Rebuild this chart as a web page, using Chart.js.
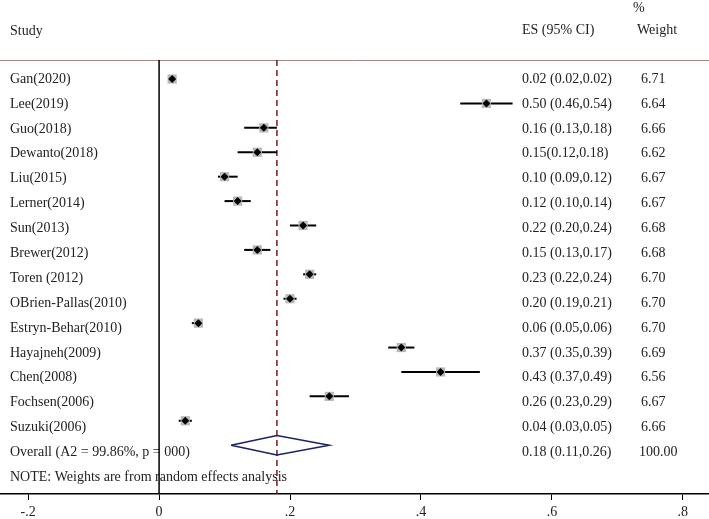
<!DOCTYPE html>
<html>
<head>
<meta charset="utf-8">
<script src="https://cdn.jsdelivr.net/npm/chart.js@4.4.0/dist/chart.umd.min.js"></script>
<style>
  body { margin: 0; background: #fff; }
  canvas { display: block; }
</style>
</head>
<body>
<canvas id="forest" width="709" height="519"></canvas>
<script>
// study rows, top to bottom
const studies = ["Gan(2020)", "Lee(2019)", "Guo(2018)", "Dewanto(2018)", "Liu(2015)", "Lerner(2014)",
  "Sun(2013)", "Brewer(2012)", "Toren (2012)", "OBrien-Pallas(2010)", "Estryn-Behar(2010)",
  "Hayajneh(2009)", "Chen(2008)", "Fochsen(2006)", "Suzuki(2006)"];
const es = [0.02, 0.50, 0.16, 0.15, 0.10, 0.12, 0.22, 0.15, 0.23, 0.20, 0.06, 0.37, 0.43, 0.26, 0.04];
const ciLow = [0.02, 0.46, 0.13, 0.12, 0.09, 0.10, 0.20, 0.13, 0.22, 0.19, 0.05, 0.35, 0.37, 0.23, 0.03];
const ciHigh = [0.02, 0.54, 0.18, 0.18, 0.12, 0.14, 0.24, 0.17, 0.24, 0.21, 0.06, 0.39, 0.49, 0.29, 0.05];
const esLabels = ["0.02 (0.02,0.02)", "0.50 (0.46,0.54)", "0.16 (0.13,0.18)", "0.15(0.12,0.18)",
  "0.10 (0.09,0.12)", "0.12 (0.10,0.14)", "0.22 (0.20,0.24)", "0.15 (0.13,0.17)", "0.23 (0.22,0.24)",
  "0.20 (0.19,0.21)", "0.06 (0.05,0.06)", "0.37 (0.35,0.39)", "0.43 (0.37,0.49)", "0.26 (0.23,0.29)",
  "0.04 (0.03,0.05)"];
const weights = ["6.71", "6.64", "6.66", "6.62", "6.67", "6.67", "6.68", "6.68", "6.70", "6.70", "6.70",
  "6.69", "6.56", "6.67", "6.66"];

const overallLabel = "Overall (A2 = 99.86%, p = 000)";
const overallEs = 0.18;
const overallLow = 0.11;
const overallHigh = 0.26;
const overallText = "0.18 (0.11,0.26)";
const overallWeight = "100.00";
const noteText = "NOTE: Weights are from random effects analysis";

const xTicks = [-0.2, 0, 0.2, 0.4, 0.6, 0.8];
const xTickLabels = ["-.2", "0", ".2", ".4", ".6", ".8"];

const FONT = "14px 'Liberation Serif', 'Times New Roman', serif";
const TEXT = "#222";
const yTop = -0.78, yBottom = 17.0;
const overallRow = studies.length;
const noteRow = studies.length + 1;

// confidence interval lines, one small dataset per study
const ciSets = studies.map((s, i) => ({
  data: [{ x: ciLow[i], y: i }, { x: ciHigh[i], y: i }],
  showLine: true,
  borderColor: "#000",
  borderWidth: 2,
  pointRadius: 0,
  order: 4
}));

const textPlugin = {
  id: "forestText",
  beforeDatasetsDraw(chart) {
    const { ctx, scales: { y }, chartArea } = chart;
    const rowY = (r) => y.getPixelForValue(r * 1.02);
    ctx.save();
    ctx.font = FONT;
    ctx.fillStyle = TEXT;
    ctx.textBaseline = "middle";
    ctx.textAlign = "left";
    ctx.fillText("Study", 10, 31);
    ctx.fillText("ES (95% CI)", 522, 30);
    ctx.fillText("%", 633, 8);
    ctx.fillText("Weight", 637, 30);
    studies.forEach((s, i) => {
      ctx.fillText(s, 10, rowY(i));
      ctx.fillText(esLabels[i], 522, rowY(i));
      ctx.fillText(weights[i], 641, rowY(i));
    });
    ctx.fillText(overallLabel, 10, rowY(overallRow));
    ctx.fillText(overallText, 522, rowY(overallRow));
    ctx.fillText(overallWeight, 639, rowY(overallRow));
    ctx.fillText(noteText, 10, rowY(noteRow));
    // header rule
    ctx.strokeStyle = "#a58585";
    ctx.lineWidth = 1;
    ctx.beginPath();
    ctx.moveTo(0, chartArea.top + 0.5);
    ctx.lineTo(chart.width, chartArea.top + 0.5);
    ctx.stroke();
    ctx.restore();
  }
};

new Chart(document.getElementById("forest"), {
  type: "scatter",
  data: {
    datasets: [
      {
        // overall diamond
        data: [
          { x: overallLow, y: overallRow },
          { x: overallEs, y: overallRow - 0.4 },
          { x: overallHigh, y: overallRow },
          { x: overallEs, y: overallRow + 0.4 },
          { x: overallLow, y: overallRow }
        ],
        showLine: true,
        borderColor: "#1b2160",
        borderWidth: 1.5,
        pointRadius: 0,
        tension: 0,
        order: 1
      },
      {
        // point estimates
        data: es.map((v, i) => ({ x: v, y: i })),
        pointStyle: "rectRot",
        pointRadius: 4,
        backgroundColor: "#000",
        borderColor: "#000",
        borderWidth: 0,
        order: 2
      },
      {
        // weight boxes
        data: es.map((v, i) => ({ x: v, y: i })),
        pointStyle: "rect",
        pointRadius: 6.5,
        backgroundColor: "#b8b8b8",
        borderColor: "#b8b8b8",
        borderWidth: 0,
        order: 3
      },
      ...ciSets,
      {
        // null line
        data: [{ x: 0, y: yTop }, { x: 0, y: yBottom }],
        showLine: true,
        borderColor: "#000",
        borderWidth: 1.5,
        pointRadius: 0,
        order: 5
      },
      {
        // overall effect line
        data: [{ x: overallEs, y: yTop }, { x: overallEs, y: yBottom }],
        showLine: true,
        borderColor: "#7a1818",
        borderWidth: 1.5,
        borderDash: [6, 4],
        pointRadius: 0,
        order: 5
      }
    ]
  },
  options: {
    responsive: false,
    animation: false,
    layout: { autoPadding: false, padding: { top: 60, left: 0, right: 0, bottom: 0 } },
    plugins: { legend: { display: false }, tooltip: { enabled: false } },
    scales: {
      x: {
        type: "linear",
        min: -0.243,
        max: 0.84,
        afterBuildTicks: (axis) => { axis.ticks = xTicks.map(v => ({ value: v })); },
        afterFit: (axis) => { axis.height = 25; axis.paddingLeft = 0; axis.paddingRight = 0; },
        ticks: {
          color: TEXT,
          font: { family: "'Liberation Serif', 'Times New Roman', serif", size: 14 },
          padding: 4,
          maxRotation: 0,
          autoSkip: false,
          callback: (v) => xTickLabels[xTicks.findIndex(t => Math.abs(t - v) < 1e-9)]
        },
        grid: { display: true, drawOnChartArea: false, drawTicks: true, tickLength: 6, color: "#000", lineWidth: 1 },
        border: { display: true, color: "#000", width: 1.5 }
      },
      y: {
        type: "linear",
        reverse: true,
        min: yTop,
        max: yBottom,
        display: false
      }
    }
  },
  plugins: [textPlugin]
});
</script>
</body>
</html>
